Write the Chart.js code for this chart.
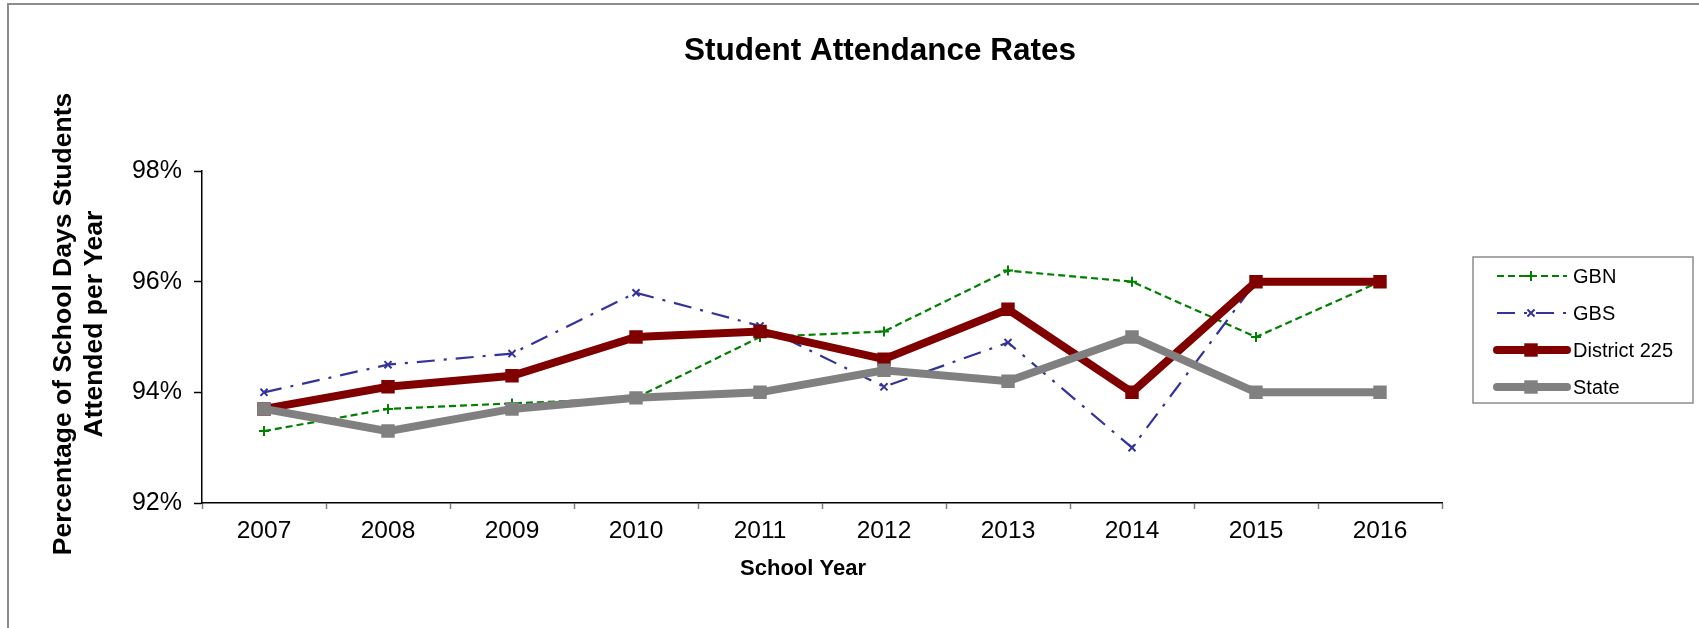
<!DOCTYPE html>
<html>
<head>
<meta charset="utf-8">
<script src="https://cdn.jsdelivr.net/npm/chart.js@4"></script>
<style>
    body { margin: 0; background: #fff; }
    #wrap { position: relative; width: 1699px; height: 628px; }
    #frame {
        position: absolute; left: 7px; top: 3px; right: 0; bottom: 0;
        border-top: 2px solid #8c8c8c; border-left: 2px solid #8c8c8c;
    }
    canvas { position: absolute; left: 0; top: 0; }
</style>
</head>
<body>
<div id="wrap">
    <div id="frame"></div>
    <canvas id="attendanceChart" width="1699" height="628"></canvas>
</div>
<script>
// Data
const years = ['2007', '2008', '2009', '2010', '2011', '2012', '2013', '2014', '2015', '2016'];
const gbn = [93.3, 93.7, 93.8, 93.9, 95.0, 95.1, 96.2, 96.0, 95.0, 96.0];
const gbs = [94.0, 94.5, 94.7, 95.8, 95.2, 94.1, 94.9, 93.0, 96.0, null];
const district225 = [93.7, 94.1, 94.3, 95.0, 95.1, 94.6, 95.5, 94.0, 96.0, 96.0];
const state = [93.7, 93.3, 93.7, 93.9, 94.0, 94.4, 94.2, 95.0, 94.0, 94.0];
const yTicks = [92, 94, 96, 98];

const FONT = '"Liberation Sans", Arial, sans-serif';

// Titles drawn straight on the canvas
const titlesPlugin = {
    id: 'titles',
    afterDraw(chart) {
        const ctx = chart.ctx;
        ctx.save();
        ctx.fillStyle = '#000';
        ctx.textAlign = 'center';
        ctx.textBaseline = 'alphabetic';
        ctx.font = 'bold 31.5px ' + FONT;
        ctx.fillText('Student Attendance Rates', 880, 60);
        ctx.font = 'bold 22px ' + FONT;
        ctx.fillText('School Year', 803, 575);

        ctx.font = 'bold 26.5px ' + FONT;
        ctx.translate(0, 324);
        ctx.rotate(-Math.PI / 2);
        ctx.fillText('Percentage of School Days Students', 0, 71);
        ctx.fillText('Attended per Year', 0, 102);
        ctx.restore();
    }
};

// Boxed legend with line + marker samples
const legendPlugin = {
    id: 'boxLegend',
    afterDraw(chart) {
        const ctx = chart.ctx;
        ctx.save();
        ctx.strokeStyle = '#8c8c8c';
        ctx.lineWidth = 1.5;
        ctx.strokeRect(1473, 257, 220, 146);

        const rowY = [276, 313, 350, 387];
        chart.data.datasets.forEach((ds, i) => {
            const y = rowY[i];
            ctx.save();
            ctx.strokeStyle = ds.borderColor;
            ctx.lineWidth = ds.borderWidth;
            ctx.lineCap = ds.borderWidth > 4 ? 'round' : 'butt';
            ctx.setLineDash(ds.borderDash || []);
            ctx.beginPath();
            ctx.moveTo(1497, y);
            ctx.lineTo(1567, y);
            ctx.stroke();
            ctx.restore();
            ctx.save();
            ctx.fillStyle = ds.borderColor;
            ctx.strokeStyle = ds.borderColor;
            ctx.lineWidth = ds.pointBorderWidth;
            Chart.helpers.drawPoint(ctx, {
                pointStyle: ds.pointStyle,
                radius: ds.pointRadius,
                borderWidth: ds.pointBorderWidth,
                rotation: 0
            }, 1531, y);
            ctx.restore();
            ctx.fillStyle = '#000';
            ctx.font = '20px ' + FONT;
            ctx.textAlign = 'left';
            ctx.textBaseline = 'middle';
            ctx.fillText(ds.label, 1573, y + 1);
        });
        ctx.restore();
    }
};

function lineSet(label, data, color, width, dash, style, radius, pbw, order) {
    return {
        label: label,
        data: data,
        borderColor: color,
        backgroundColor: color,
        borderWidth: width,
        borderDash: dash,
        pointStyle: style,
        pointRadius: radius,
        pointBorderWidth: pbw,
        pointBackgroundColor: color,
        pointBorderColor: color,
        tension: 0,
        spanGaps: false,
        order: order
    };
}

const ctx = document.getElementById('attendanceChart').getContext('2d');
new Chart(ctx, {
    type: 'line',
    data: {
        labels: years,
        datasets: [
            lineSet('GBN', gbn, '#008000', 2.2, [7, 4], 'cross', 5, 2, 4),
            lineSet('GBS', gbs, '#333399', 2.2, [18, 9, 3, 9], 'crossRot', 5, 2, 3),
            lineSet('District 225', district225, '#800000', 8, [], 'rect', 9.5, 0, 2),
            lineSet('State', state, '#808080', 8, [], 'rect', 9.5, 0, 1)
        ]
    },
    options: {
        responsive: false,
        devicePixelRatio: 1,
        animation: false,
        layout: { padding: { left: 0, top: 171, right: 257, bottom: 0 } },
        plugins: {
            legend: { display: false },
            title: { display: false },
            tooltip: { enabled: false }
        },
        scales: {
            x: {
                offset: true,
                grid: {
                    offset: true,
                    drawOnChartArea: false,
                    tickLength: 6,
                    tickWidth: 1.5,
                    color: '#808080'
                },
                border: { color: '#000', width: 1.5 },
                ticks: {
                    color: '#000',
                    font: { family: FONT, size: 24.5 },
                    padding: 8,
                    maxRotation: 0,
                    autoSkip: false
                },
                afterFit(scale) { scale.height = 125; }
            },
            y: {
                min: yTicks[0],
                max: yTicks[yTicks.length - 1],
                afterBuildTicks(scale) {
                    scale.ticks = yTicks.map(v => ({ value: v }));
                },
                grid: {
                    drawOnChartArea: false,
                    tickLength: 8,
                    tickWidth: 1.5,
                    color: '#000'
                },
                border: { color: '#000', width: 1.5 },
                ticks: {
                    color: '#000',
                    font: { family: FONT, size: 25 },
                    padding: 12,
                    callback: v => v + '%'
                },
                afterFit(scale) { scale.width = 202; }
            }
        }
    },
    plugins: [titlesPlugin, legendPlugin]
});
</script>
</body>
</html>
